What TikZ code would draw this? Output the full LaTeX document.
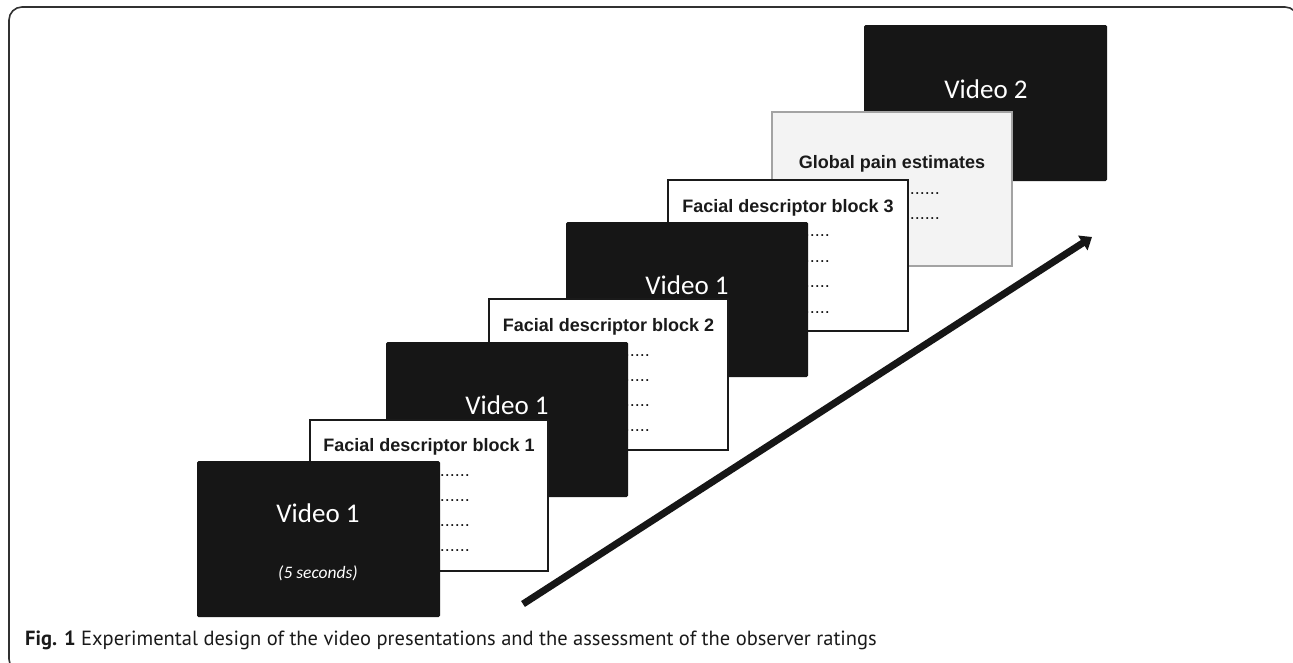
\documentclass[tikz,border=0pt]{standalone}
\usepackage{fontspec}
\setmainfont{Liberation Sans}
\newfontfamily\vidfont{Carlito}
\newfontfamily\capfont{PT Sans}
\usetikzlibrary{arrows.meta}
\definecolor{cardblack}{HTML}{161616}
\definecolor{ink}{HTML}{1A1A1A}
\definecolor{lightcard}{HTML}{F3F3F3}
\definecolor{lightborder}{HTML}{A3A3A3}
\tikzset{
  blackcard/.style={fill=cardblack, draw=none, rounded corners=1.5pt, inner sep=0pt, outer sep=0pt},
  whitecard/.style={fill=white, draw=ink, line width=2.4pt, inner sep=0pt, outer sep=0pt},
  graycard/.style={fill=lightcard, draw=lightborder, line width=2.6pt, inner sep=0pt, outer sep=0pt},
  vidtext/.style={text=white, font=\vidfont\fontsize{27}{31}\selectfont, inner sep=0pt},
  sectext/.style={text=white, font=\vidfont\itshape\fontsize{17.5}{20}\selectfont, inner sep=0pt},
  titletext/.style={text=ink, font=\bfseries\fontsize{18}{21}\selectfont, inner sep=0pt},
  dottext/.style={text=ink, font=\fontsize{18}{21}\selectfont, inner sep=0pt, anchor=base east},
  captext/.style={text=ink, font=\capfont\fontsize{20.5}{24}\selectfont, inner sep=0pt, anchor=base west},
}
\begin{document}
\begin{tikzpicture}[x=1pt,y=-1pt]
\useasboundingbox (0,0) rectangle (1293,662);
\fill[white] (0,0) rectangle (1293,662);
\begin{scope}
\clip (0,0) rectangle (1293,662);
\draw[line width=1.6pt, draw=ink!90, rounded corners=13pt] (9,7) rectangle (1298,672);
\end{scope}

% Video 2 (back)
\node[blackcard, minimum width=243pt, minimum height=156pt] (H) at (985.5,103) {};
\node[vidtext] (Ht) at (986,89) {Video 2};

% Global pain estimates
\node[graycard, minimum width=240pt, minimum height=154pt] (G) at (892,189) {};
\node[titletext] (Gt) at (892,164) {Global pain estimates};
\node[dottext] (Gd1) at (940,194) {.......};
\node[dottext] (Gd2) at (940,219) {.......};

% Facial descriptor block 3
\node[whitecard, minimum width=240pt, minimum height=151pt] (F) at (788,255.5) {};
\node[titletext] (Ft) at (788,208) {Facial descriptor block 3};
\node[dottext] (Fd1) at (830,236) {.......};
\node[dottext] (Fd2) at (830,262) {.......};
\node[dottext] (Fd3) at (830,287) {.......};
\node[dottext] (Fd4) at (830,313) {.......};

% Video 1 (top)
\node[blackcard, minimum width=242pt, minimum height=155pt] (E) at (687,299.5) {};
\node[vidtext] (Et) at (687,285) {Video 1};

% Facial descriptor block 2
\node[whitecard, minimum width=239pt, minimum height=151pt] (D) at (608.5,374.5) {};
\node[titletext] (Dt) at (608.5,327) {Facial descriptor block 2};
\node[dottext] (Dd1) at (650,356) {.......};
\node[dottext] (Dd2) at (650,381) {.......};
\node[dottext] (Dd3) at (650,406) {.......};
\node[dottext] (Dd4) at (650,431) {.......};

% Video 1 (middle)
\node[blackcard, minimum width=242pt, minimum height=155pt] (C) at (507,419.5) {};
\node[vidtext] (Ct) at (507,405) {Video 1};

% Facial descriptor block 1
\node[whitecard, minimum width=238pt, minimum height=151pt] (B) at (429,495.5) {};
\node[titletext] (Bt) at (429,447) {Facial descriptor block 1};
\node[dottext] (Bd1) at (470,476) {.......};
\node[dottext] (Bd2) at (470,501) {.......};
\node[dottext] (Bd3) at (470,526) {.......};
\node[dottext] (Bd4) at (470,551) {.......};

% Video 1 (front)
\node[blackcard, minimum width=243pt, minimum height=156pt] (A) at (318.5,539) {};
\node[vidtext] (At) at (318,513) {Video 1};
\node[sectext] (As) at (318,573) {(5 seconds)};

% arrow
\coordinate (arrS) at (523,604);
\coordinate (arrE) at (1092,237);
\draw[line width=7pt, draw=cardblack, -{Triangle[length=11pt,width=17pt]}] (arrS) -- (arrE);

% caption
\node[captext] (cap) at (25,645) {\textbf{Fig. 1} Experimental design of the video presentations and the assessment of the observer ratings};
\end{tikzpicture}
\end{document}
